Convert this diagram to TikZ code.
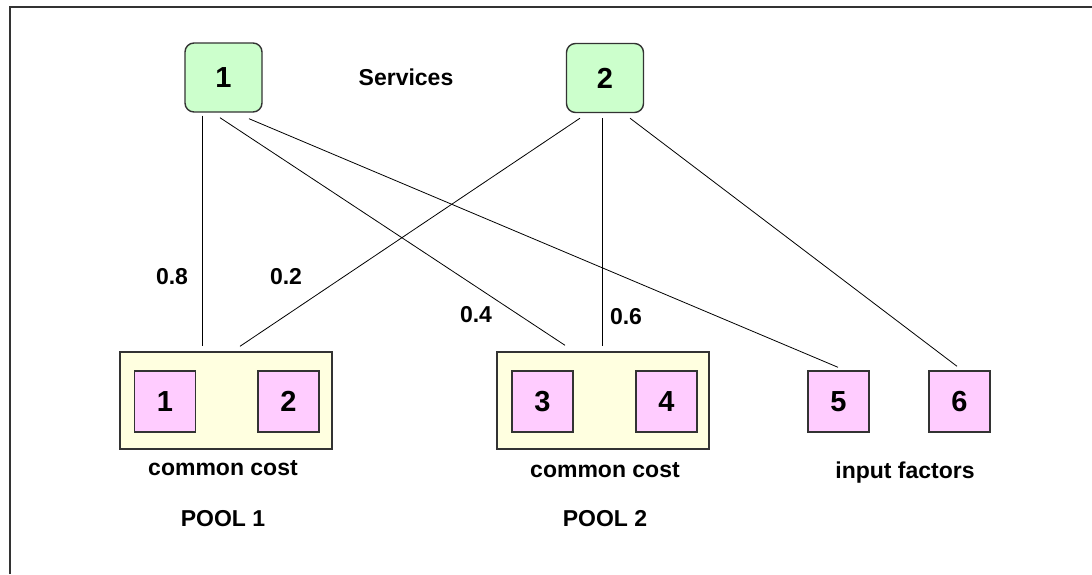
\documentclass[tikz,border=0pt]{standalone}
\usepackage{fontspec}
\setmainfont{Liberation Sans}
\definecolor{svcfill}{HTML}{CCFFCC}
\definecolor{poolfill}{HTML}{FFFFE0}
\definecolor{itemfill}{HTML}{FFCCFF}
\definecolor{edge}{HTML}{333333}
\tikzset{
  svc/.style={draw=edge, line width=1.4pt, fill=svcfill, rounded corners=9pt,
    minimum width=77pt, minimum height=69pt, inner sep=0pt,
    font=\bfseries\fontsize{29}{29}\selectfont},
  pool/.style={draw=edge, line width=1.4pt, fill=poolfill,
    minimum width=212pt, minimum height=97pt, inner sep=0pt},
  item/.style={draw=edge, line width=1.4pt, fill=itemfill,
    minimum width=61pt, minimum height=61pt, inner sep=0pt,
    font=\bfseries\fontsize{29}{29}\selectfont},
  txt/.style={inner sep=0pt, font=\bfseries\fontsize{23}{23}\selectfont},
  conn/.style={draw=black, line width=0.8pt}
}
\begin{document}
\begin{tikzpicture}[x=1pt, y=-1pt]
  \useasboundingbox (0,0) rectangle (1092,574);
  % page frame
  \draw[line width=2pt, edge] (9.5,574) -- (9.5,6.5) -- (1092,6.5);

  % services
  \node[svc] (s1) at (223.5,77.5) {1};
  \node[svc] (s2) at (605,78) {2};
  \node[txt] (services) at (406,77) {Services};

  % cost pools with their input factors
  \node[pool] (pool1) at (226,400.5) {};
  \node[pool] (pool2) at (603,400.5) {};
  \node[item] (i1) at (165,401.5) {1};
  \node[item] (i2) at (288.5,401.5) {2};
  \node[item] (i3) at (542.5,401.5) {3};
  \node[item] (i4) at (666.5,401.5) {4};
  \node[item] (i5) at (838.5,401.5) {5};
  \node[item] (i6) at (959.5,401.5) {6};

  % captions
  \node[txt] (cc1) at (223,468) {common cost};
  \node[txt] (cc2) at (605,470) {common cost};
  \node[txt] (inf) at (905,473) {input factors};
  \node[txt] (p1) at (223,518.5) {POOL 1};
  \node[txt] (p2) at (605,518.5) {POOL 2};

  % allocation lines
  \draw[conn] ([xshift=-21.5pt,yshift=-3pt]s1.south) -- ([xshift=-24pt,yshift=5pt]pool1.north);
  \draw[conn] ([xshift=-3.5pt,yshift=-5pt]s1.south) -- ([xshift=-38pt,yshift=6pt]pool2.north);
  \draw[conn] ([xshift=25.5pt,yshift=-6pt]s1.south) -- ([xshift=-0.5pt,yshift=3pt]i5.north);
  \draw[conn] ([xshift=-25pt,yshift=-5pt]s2.south) -- ([xshift=14pt,yshift=5pt]pool1.north);
  \draw[conn] ([xshift=-3pt,yshift=-5pt]s2.south) -- ([xshift=-1pt,yshift=5pt]pool2.north);
  \draw[conn] ([xshift=25pt,yshift=-5pt]s2.south) -- ([xshift=-2.5pt,yshift=4pt]i6.north);

  % allocation shares
  \node[txt] (w08) at (172,277) {0.8};
  \node[txt] (w02) at (286,277) {0.2};
  \node[txt] (w04) at (476,315) {0.4};
  \node[txt] (w06) at (626,317) {0.6};
\end{tikzpicture}
\end{document}
